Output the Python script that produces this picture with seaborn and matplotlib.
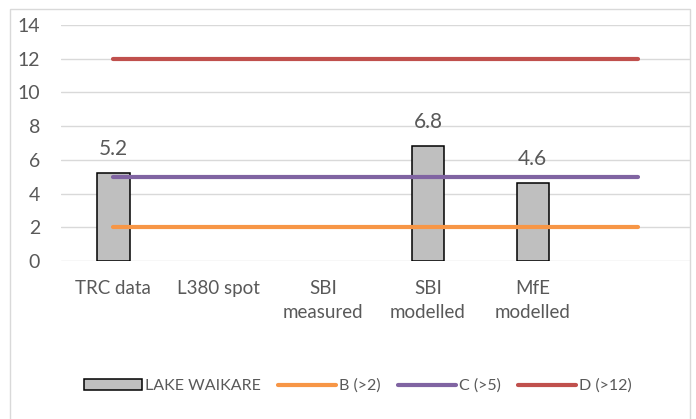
import numpy as np
import pandas as pd
import matplotlib
matplotlib.use("Agg")
import matplotlib.pyplot as plt
from matplotlib.patches import Patch, Rectangle
from matplotlib.lines import Line2D
import seaborn as sns

# Sites / sources along the x axis (last slot is an unlabelled spacer)
categories = ["TRC data", "L380 spot", "SBI\nmeasured", "SBI\nmodelled", "MfE\nmodelled", ""]
# Lake Waikare values per source (NaN where no value)
waikare = [5.2, np.nan, np.nan, 6.8, 4.6, np.nan]
value_labels = ["5.2", "", "", "6.8", "4.6", ""]

# Attribute band thresholds
band_names = ["B (>2)", "C (>5)", "D (>12)"]
band_values = [2, 5, 12]
band_colors = ["#F79646", "#8064A2", "#C0504D"]

yticks = [0, 2, 4, 6, 8, 10, 12, 14]

sns.set_theme(style="white")
plt.rcParams["font.family"] = ["Lato", "DejaVu Sans"]
text_color = "#595959"
grid_color = "#D9D9D9"

W, H = 696, 419
fig = plt.figure(figsize=(W / 100, H / 100), dpi=100)
ax = fig.add_axes([61 / W, 1 - 261 / H, (690 - 61) / W, (261 - 25) / H])

bars_df = pd.DataFrame({"category": categories, "value": waikare})
sns.barplot(data=bars_df, x="category", y="value", order=categories,
            color="#BFBFBF", edgecolor="black", linewidth=1.1,
            width=0.31, saturation=1, ax=ax, zorder=2)

# Threshold lines spanning all category positions
positions = np.arange(len(categories))
lines_df = pd.DataFrame({
    "pos": np.tile(positions, len(band_values)),
    "threshold": np.repeat(band_values, len(positions)),
    "band": np.repeat(band_names, len(positions)),
})
sns.lineplot(data=lines_df, x="pos", y="threshold", hue="band",
             hue_order=band_names, palette=band_colors, linewidth=3,
             legend=False, ax=ax, zorder=3)
for ln in ax.lines:
    ln.set_solid_capstyle("round")

# Value labels above the bars
for p, v, lab in zip(positions, waikare, value_labels):
    if lab:
        ax.annotate(lab, (p, v), xytext=(0, 13), textcoords="offset points",
                    ha="center", va="baseline", fontsize=15, color=text_color)

ax.set_xlim(-0.5, len(categories) - 0.5)
ax.set_ylim(0, 14)
ax.set_yticks(yticks)
ax.set_xlabel("")
ax.set_ylabel("")
ax.yaxis.grid(True, color=grid_color, linewidth=1)
ax.set_axisbelow(True)
for s in ax.spines.values():
    s.set_visible(False)
ax.tick_params(axis="both", length=0, labelsize=13.5, labelcolor=text_color)
ax.tick_params(axis="y", labelsize=14, pad=15)
ax.tick_params(axis="x", pad=14)
for t in ax.get_xticklabels():
    t.set_linespacing(1.45)

# Legend
handles = [Patch(facecolor="#BFBFBF", edgecolor="black", linewidth=1.1, label="LAKE WAIKARE")]
handles += [Line2D([], [], color=c, linewidth=3, solid_capstyle="round", label=n)
            for n, c in zip(band_names, band_colors)]
leg = fig.legend(handles=handles, loc="center", bbox_to_anchor=(358 / W, 1 - 386 / H),
                 ncol=4, frameon=False, fontsize=11.5, handlelength=3.6, handleheight=0.65,
                 handletextpad=0.2, columnspacing=1.1, labelcolor=text_color)

# Outer chart frame
fig.patches.append(Rectangle((10 / W, -0.05), 680 / W, 1.05 - 9 / H,
                             transform=fig.transFigure, fill=False,
                             edgecolor=grid_color, linewidth=1))

fig.savefig("out.png", dpi=100)
